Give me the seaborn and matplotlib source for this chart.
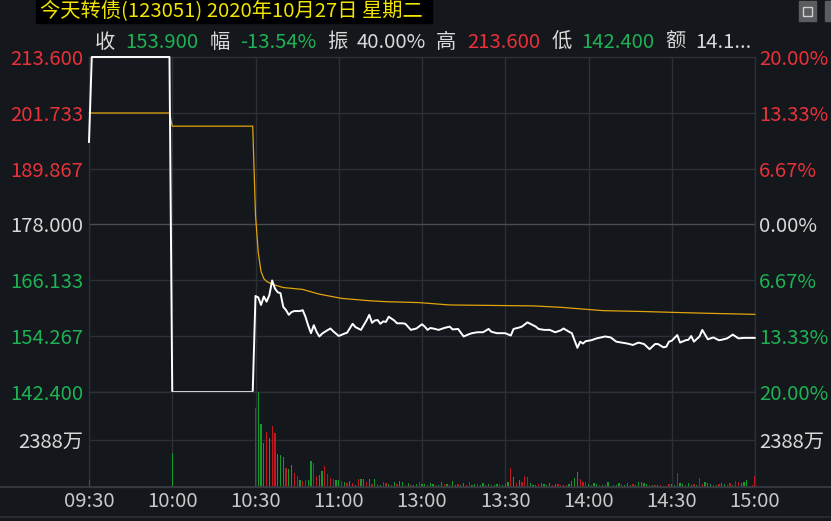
import numpy as np
import pandas as pd
import matplotlib
matplotlib.use("Agg")
import matplotlib.pyplot as plt
import seaborn as sns
from matplotlib.lines import Line2D
from matplotlib.patches import Rectangle

# ---- data ----
title = "今天转债(123051) 2020年10月27日 星期二"
info_keys = ["收", "幅", "振", "高", "低", "额"]
info_vals = ["153.900", "-13.54%", "40.00%", "213.600", "142.400", "14.1..."]

time_labels = ["09:30", "10:00", "10:30", "11:00", "13:00", "13:30", "14:00", "14:30", "15:00"]
price_ticks = [142.400, 154.267, 166.133, 178.000, 189.867, 201.733, 213.600]
pct_labels = ["20.00%", "13.33%", "6.67%", "0.00%", "6.67%", "13.33%", "20.00%"]
prev_close = 178.0
vol_tick = 2388

# minute index (0 = 09:30, 120 = 11:30/13:00, 240 = 15:00) and price
price_min = [0, 1, 29, 30, 59, 60, 61, 62, 63, 64, 65, 66, 67, 68, 69, 70, 71, 72, 73, 74,
             76, 77, 78, 79, 80, 81, 82, 83, 84, 85, 87, 88, 90, 92, 93, 95, 96, 98, 100, 101,
             102, 103, 104, 105, 106, 107, 108, 110, 111, 113, 114, 116, 118, 120, 121, 122,
             123, 124, 126, 128, 130, 131, 133, 135, 137, 138, 140, 142, 144, 145, 147, 150,
             152, 153, 155, 156, 158, 160, 161, 162, 164, 166, 168, 170, 171, 173, 174, 176,
             177, 178, 179, 181, 183, 186, 188, 190, 192, 194, 196, 198, 200, 202, 204, 205,
             207, 208, 209, 210, 212, 213, 215, 216, 217, 218, 220, 221, 223, 225, 227, 228,
             230, 232, 234, 236, 240]
price = [195.5, 213.6, 213.6, 142.4, 142.4, 162.8, 162.5, 160.9, 162.7, 161.6, 163.0, 166.1,
         164.4, 163.6, 163.4, 160.5, 159.8, 158.8, 159.4, 159.6, 159.6, 159.8, 158.4, 156.5,
         154.9, 156.6, 155.2, 154.2, 154.8, 155.2, 155.9, 155.3, 154.3, 154.8, 155.0, 156.9,
         156.2, 155.6, 157.6, 158.8, 157.1, 157.6, 157.7, 156.9, 157.4, 157.3, 158.4, 157.6,
         157.0, 157.0, 156.9, 155.6, 155.9, 156.8, 156.3, 155.6, 156.0, 155.9, 155.6, 156.0,
         156.3, 155.7, 155.8, 154.2, 154.7, 154.9, 155.1, 155.1, 155.8, 155.2, 154.9, 154.9,
         154.4, 155.8, 156.1, 156.3, 157.2, 156.6, 156.3, 155.8, 155.6, 155.6, 155.1, 155.5,
         155.9, 155.2, 154.9, 151.8, 153.1, 152.7, 153.2, 153.4, 153.8, 154.2, 154.0, 153.1,
         152.9, 152.7, 152.4, 152.9, 152.6, 151.5, 152.6, 152.6, 151.9, 152.0, 153.1, 153.3,
         154.5, 152.9, 153.4, 153.5, 154.3, 153.1, 154.2, 155.6, 153.6, 154.0, 153.4, 153.5,
         153.8, 154.6, 153.8, 153.9, 153.9]

avg_min = [0, 29, 30, 59, 60, 61, 62, 63, 64, 66, 70, 77, 83, 91, 101, 107, 119, 130, 160,
           170, 185, 200, 212, 225, 240]
avg_price = [201.7, 201.7, 198.9, 198.9, 180.0, 172.0, 168.0, 166.5, 165.9, 165.3, 164.6,
             164.2, 163.2, 162.3, 161.8, 161.6, 161.4, 160.9, 160.7, 160.4, 159.7, 159.5,
             159.3, 159.1, 158.9]

# volume in 万 per minute; 'r' = up minute, 'g' = down minute
# first two bars at 09:30 and 10:00, then one row per 10 minutes from 10:30
vol_min = [0, 30] + list(range(60, 241))
volume = [370, 1690,
          3960, 4770, 3170, 2230, 2790, 2460, 3080, 2730, 1640, 1590,
          1520, 970, 880, 1100, 710, 540, 370, 290, 370, 340,
          1300, 1220, 540, 580, 800, 1050, 630, 460, 410, 370,
          340, 300, 250, 180, 320, 200, 120, 380, 400, 420,
          250, 420, 130, 380, 160, 110, 250, 200, 150, 90,
          230, 160, 300, 260, 120, 180, 110, 80, 150, 270,
          130, 140, 90, 200, 160, 110, 80, 230, 170, 130,
          100, 300, 120, 150, 90, 180, 110, 250, 80, 130,
          160, 120, 200, 90, 140, 110, 100, 170, 130, 80,
          150, 260, 960, 490, 200, 340, 230, 570, 490, 180,
          120, 90, 140, 210, 150, 110, 200, 100, 130, 150,
          100, 80, 120, 150, 300, 450, 740, 420, 240, 250,
          160, 90, 200, 140, 100, 90, 110, 230, 70, 110,
          100, 180, 150, 90, 200, 80, 140, 110, 250, 260,
          220, 160, 90, 120, 110, 80, 100, 60, 40, 130,
          150, 120, 680, 200, 150, 120, 180, 110, 170, 120,
          440, 150, 250, 220, 150, 120, 100, 160, 190, 130,
          110, 200, 110, 290, 250, 220, 240, 330, 60, 80,
          540]
vol_dir = list("rg"
               "rgggrgrrgg" "grggrrgrrg" "grrggrrrrg" "grgrgrgrgg" "rgrgrgrrgr"
               "grggrgrggr" "ggrggrggrg" "rggrggrrgg" "rggrgrggrg" "ggrgrgrrrg"
               "ggrggggrgr" "rgrggggrrr" "grggrgrggr" "ggrgggrggg" "ggrgrgrggr"
               "ggrggrggrg" "rrgggrgrgg" "rrgrrggggr" "r")

# ---- style ----
BG = "#14171c"
GRID = "#2c2f35"
RED = "#e8323a"
GREEN = "#1fb254"
TXT = "#d9d9d9"
FS = 14.6

sns.set_style("dark")
plt.rcParams["font.family"] = ["Noto Sans CJK SC", "DejaVu Sans"]
plt.rcParams["axes.unicode_minus"] = False

W, H = 831, 521
fig = plt.figure(figsize=(W / 100, H / 100), dpi=100, facecolor=BG)

L, R = 89, 755
ax_p = fig.add_axes([L / W, 1 - 392 / H, (R - L) / W, (392 - 57) / H])
ax_v = fig.add_axes([L / W, 1 - 487 / H, (R - L) / W, (487 - 392) / H], sharex=ax_p)

for ax in (ax_p, ax_v):
    ax.set_facecolor(BG)
    ax.grid(False)
    for s in ax.spines.values():
        s.set_color(GRID)
        s.set_linewidth(1.0)
    ax.tick_params(length=0)

ticks_x = np.arange(0, 241, 30)
for ax in (ax_p, ax_v):
    for t in ticks_x:
        ax.axvline(t, color=GRID, lw=1.0, zorder=0)

for v in price_ticks:
    ax_p.axhline(v, color="#4a4c52" if v == prev_close else GRID, lw=1.0, zorder=0)
ax_v.axhline(vol_tick, color=GRID, lw=1.0, zorder=0)

# price + average lines
dfp = pd.DataFrame({"m": price_min, "p": price})
dfa = pd.DataFrame({"m": avg_min, "p": avg_price})
sns.lineplot(data=dfa, x="m", y="p", ax=ax_p, color="#e0a40c", lw=0.9, clip_on=False, zorder=3)
sns.lineplot(data=dfp, x="m", y="p", ax=ax_p, color="white", lw=1.4, clip_on=False, zorder=4)

ax_p.set_xlim(0, 240)
ax_p.set_ylim(price_ticks[0], price_ticks[-1])
ax_p.set_xlabel("")
ax_p.set_ylabel("")
ax_p.set_yticks(price_ticks)
ax_p.set_yticklabels([f"{v:.3f}" for v in price_ticks], fontsize=FS)
side_cols = [GREEN, GREEN, GREEN, TXT, RED, RED, RED]
for lbl, c in zip(ax_p.get_yticklabels(), side_cols):
    lbl.set_color(c)
ax_p.tick_params(axis="y", pad=4)
ax_p.tick_params(axis="x", labelbottom=False)

ax_r = ax_p.twinx()
ax_r.set_ylim(price_ticks[0], price_ticks[-1])
ax_r.set_yticks(price_ticks)
ax_r.set_yticklabels(pct_labels, fontsize=FS)
for lbl, c in zip(ax_r.get_yticklabels(), side_cols):
    lbl.set_color(c)
ax_r.tick_params(length=0, pad=3)
for s in ax_r.spines.values():
    s.set_visible(False)
ax_r.grid(False)

# volume bars
vcols = [("#c0161d" if d == "r" else "#139a2a") for d in vol_dir]
ax_v.bar(vol_min, volume, width=0.45, color=vcols, linewidth=0, zorder=3)
ax_v.set_ylim(0, vol_tick * 2)
ax_v.set_yticks([vol_tick])
ax_v.set_yticklabels([f"{vol_tick}万"], fontsize=FS, color=TXT)
ax_v.tick_params(axis="y", pad=4)
ax_v.set_xticks(ticks_x)
ax_v.set_xticklabels(time_labels, fontsize=FS, color="#c8c8c8")
ax_v.tick_params(axis="x", pad=3)

ax_v2 = ax_v.twinx()
ax_v2.set_ylim(0, vol_tick * 2)
ax_v2.set_yticks([vol_tick])
ax_v2.set_yticklabels([f"{vol_tick}万"], fontsize=FS, color=TXT)
ax_v2.tick_params(length=0, pad=3)
for s in ax_v2.spines.values():
    s.set_visible(False)
ax_v2.grid(False)

# full-width separator lines
for y, c in ((487, "#3a3d43"), (517, "#2c2f35")):
    fig.add_artist(Line2D([0, 1], [1 - y / H, 1 - y / H], color=c, lw=1.2,
                          transform=fig.transFigure))

# header
fig.patches.append(Rectangle((36 / W, 1 - 23 / H), (432 - 36) / W, 23 / H,
                             transform=fig.transFigure, color="black", zorder=0))
fig.text(40 / W, 1 - 12 / H, title, color="#f0e400", fontsize=FS, va="center")

key_x = [95, 210, 327, 436, 552, 665]
val_x = [125, 240, 357, 467, 581, 695]
val_cols = [GREEN, GREEN, TXT, RED, GREEN, TXT]
for k, v, kx, vx, c in zip(info_keys, info_vals, key_x, val_x, val_cols):
    fig.text(kx / W, 1 - 42 / H, k, color=TXT, fontsize=FS, va="center")
    fig.text(vx / W, 1 - 42 / H, v, color=c, fontsize=FS, va="center")

# window buttons at top right
for x0 in (799, 825):
    fig.patches.append(Rectangle((x0 / W, 1 - 21 / H), 17 / W, 20 / H,
                                 transform=fig.transFigure, color="#5a5c60", zorder=0))
fig.patches.append(Rectangle((803 / W, 1 - 16 / H), 9 / W, 9 / H, transform=fig.transFigure,
                             fill=False, edgecolor="#d0d0d0", lw=1.0, zorder=1))

fig.savefig("out.png", dpi=100, facecolor=BG)
